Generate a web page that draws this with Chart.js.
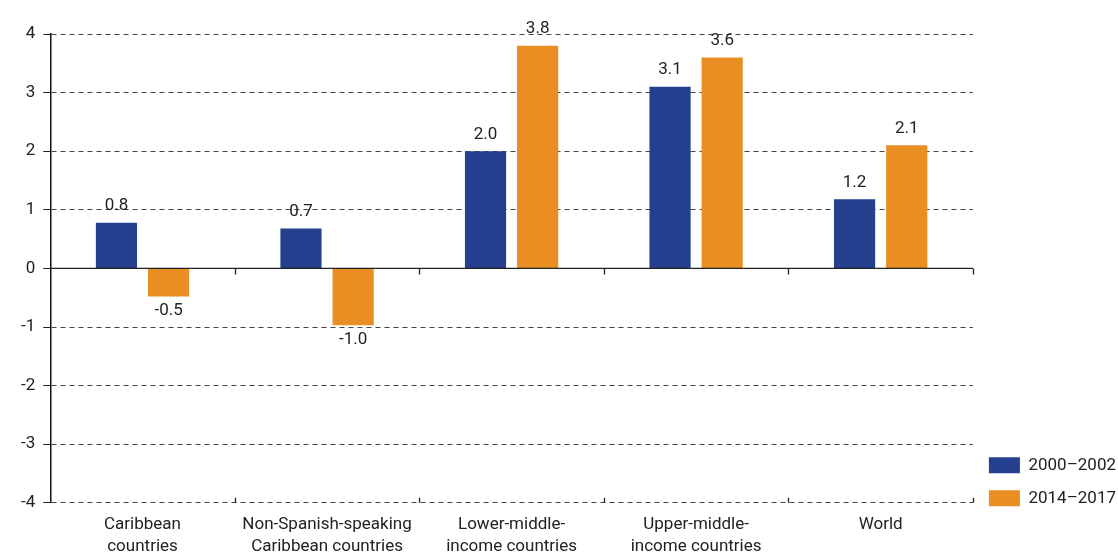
<!DOCTYPE html>
<html>
<head>
<meta charset="utf-8">
<script src="https://cdn.jsdelivr.net/npm/chart.js@4.4.1/dist/chart.umd.min.js"></script>
<style>
  html, body { margin: 0; padding: 0; background: #fff; }
  #wrap { width: 1118px; height: 552px; position: relative; }
</style>
</head>
<body>
<div id="wrap"><canvas id="chart"></canvas></div>
<script>
// categories and series
const categories = [
  ['Caribbean', 'countries'],
  ['Non-Spanish-speaking', 'Caribbean countries'],
  ['Lower-middle-', 'income countries'],
  ['Upper-middle-', 'income countries'],
  ['World']
];
const serie2000 = [0.78, 0.68, 2.0, 3.1, 1.18];
const serie2014 = [-0.48, -0.97, 3.8, 3.6, 2.1];
const seriesNames = ['2000\u20132002', '2014\u20132017'];
const yTicks = [-4, -3, -2, -1, 0, 1, 2, 3, 4];

const fontFam = "'Liberation Sans Narrow', 'Roboto', 'Liberation Sans', sans-serif";
const txtColor = '#222';

// etiquetas de valor encima/debajo de las barras
const valueLabels = {
  id: 'valueLabels',
  afterDatasetsDraw(chart) {
    const ctx = chart.ctx;
    ctx.save();
    ctx.font = '17px ' + fontFam;
    ctx.fillStyle = txtColor;
    ctx.textAlign = 'center';
    chart.data.datasets.forEach((ds, di) => {
      const meta = chart.getDatasetMeta(di);
      meta.data.forEach((bar, i) => {
        const v = ds.data[i];
        if (v >= 0) {
          ctx.textBaseline = 'bottom';
          ctx.fillText(v.toFixed(1), bar.x, bar.y - 8);
        } else {
          ctx.textBaseline = 'top';
          ctx.fillText(v.toFixed(1), bar.x, bar.y + 6);
        }
      });
    });
    ctx.restore();
  }
};

// linea del cero y marcas de categoria
const zeroAxis = {
  id: 'zeroAxis',
  afterDatasetsDraw(chart) {
    const ctx = chart.ctx;
    const x = chart.scales.x, y = chart.scales.y;
    const y0 = y.getPixelForValue(0);
    const yb = y.getPixelForValue(-4);
    ctx.save();
    ctx.strokeStyle = '#222';
    ctx.lineWidth = 1.3;
    ctx.beginPath();
    ctx.moveTo(chart.chartArea.left, y0);
    ctx.lineTo(chart.chartArea.right, y0);
    for (let i = 1; i <= categories.length; i++) {
      const px = Math.round(x.getPixelForValue(i - 0.5)) + 0.5;
      ctx.moveTo(px, y0);
      ctx.lineTo(px, y0 + 6);
      ctx.moveTo(px, yb);
      ctx.lineTo(px, yb - 5);
    }
    ctx.stroke();
    ctx.restore();
  }
};

// bajar un poco la leyenda
const legendShift = {
  id: 'legendShift',
  afterLayout(chart) {
    const lg = chart.legend;
    if (!lg) return;
    lg.top += 20;
    lg.bottom += 20;
  }
};

new Chart(document.getElementById('chart'), {
  type: 'bar',
  data: {
    labels: categories,
    datasets: [
      {
        label: seriesNames[0],
        data: serie2000,
        backgroundColor: '#24408E',
        categoryPercentage: 0.565,
        barPercentage: 0.79
      },
      {
        label: seriesNames[1],
        data: serie2014,
        backgroundColor: '#E98E22',
        categoryPercentage: 0.565,
        barPercentage: 0.79
      }
    ]
  },
  options: {
    responsive: true,
    maintainAspectRatio: false,
    animation: false,
    layout: { padding: { top: 34, right: -8, left: 13, bottom: -9 } },
    plugins: {
      tooltip: { enabled: false },
      legend: {
        position: 'right',
        align: 'end',
        fullSize: false,
        labels: {
          boxWidth: 31,
          boxHeight: 16,
          padding: 16,
          color: txtColor,
          font: { family: fontFam, size: 17 }
        }
      }
    },
    scales: {
      x: {
        grid: { display: false },
        border: { display: false },
        ticks: {
          color: txtColor,
          padding: 3,
          maxRotation: 0,
          font: { family: fontFam, size: 17, lineHeight: 1.3 }
        }
      },
      y: {
        min: -4,
        max: 4,
        afterBuildTicks: (axis) => { axis.ticks = yTicks.map(v => ({ value: v })); },
        grid: {
          color: '#444',
          lineWidth: 1,
          tickLength: 7,
          tickColor: '#222'
        },
        border: { display: true, color: '#111', width: 1.5, dash: [5, 4] },
        ticks: {
          color: txtColor,
          padding: 8,
          font: { family: fontFam, size: 17 }
        }
      }
    }
  },
  plugins: [valueLabels, zeroAxis, legendShift]
});
</script>
</body>
</html>
